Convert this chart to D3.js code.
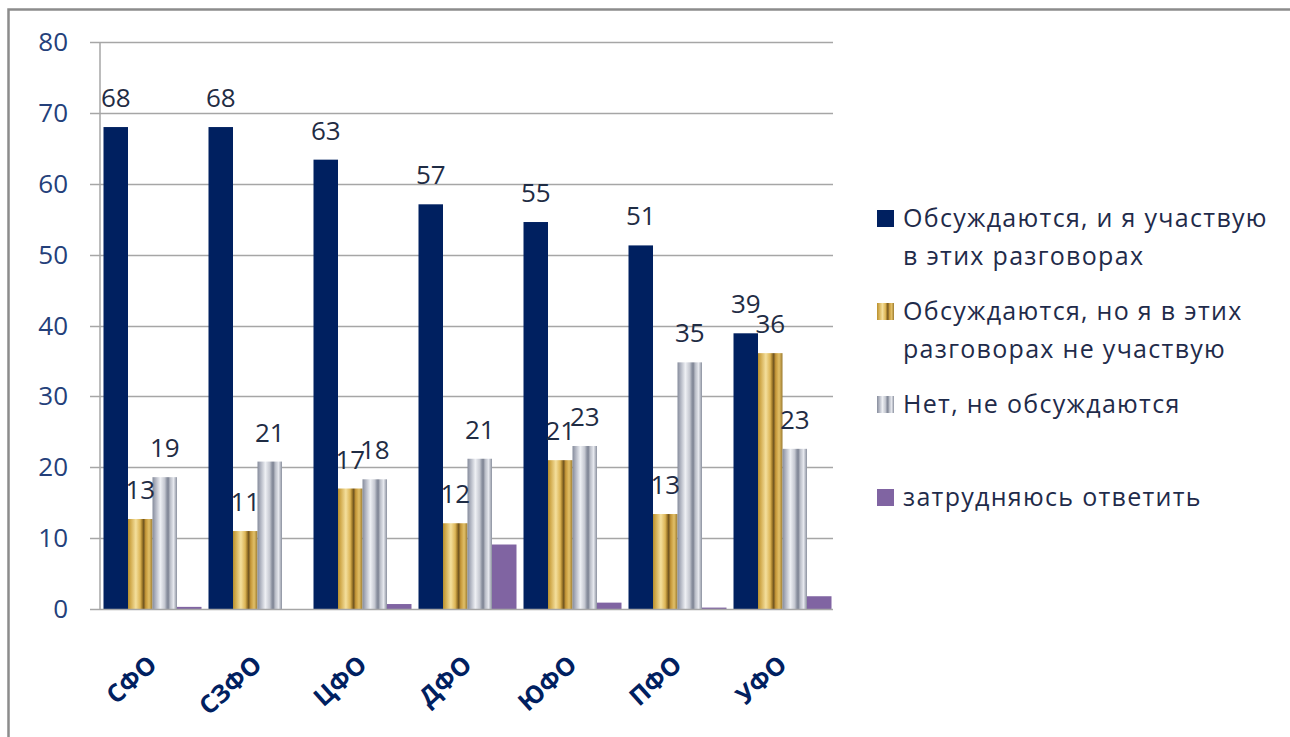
<!DOCTYPE html>
<html>
<head>
<meta charset="utf-8">
<script src="https://cdn.jsdelivr.net/npm/d3@7"></script>
<style>
  html, body { margin: 0; padding: 0; background: #fff; }
  svg { display: block; }
</style>
</head>
<body>
<svg id="chart" width="1290" height="737"></svg>
<script>
// ---- data ----
const categories = ["СФО", "СЗФО", "ЦФО", "ДФО", "ЮФО", "ПФО", "УФО"];
const seriesNames = [
  "Обсуждаются, и я участвую в этих разговорах",
  "Обсуждаются, но я в этих разговорах не участвую",
  "Нет, не обсуждаются",
  "затрудняюсь ответить"
];
const legendLines = [
  ["Обсуждаются, и я участвую", "в этих разговорах"],
  ["Обсуждаются, но я в этих", "разговорах не участвую"],
  ["Нет, не обсуждаются"],
  ["затрудняюсь ответить"]
];
const participate    = [68, 68, 63.4, 57.1, 54.6, 51.3, 38.9];
const notParticipate = [12.7, 11.0, 17.0, 12.1, 21.0, 13.4, 36.1];
const notDiscussed   = [18.6, 20.8, 18.3, 21.2, 23.0, 34.8, 22.6];
const hardToSay      = [0.3, 0, 0.7, 9.1, 0.9, 0.2, 1.8];
const yTicks = [0, 10, 20, 30, 40, 50, 60, 70, 80];
const showLabels = [true, true, true, false];

const seriesValues = [participate, notParticipate, notDiscussed, hardToSay];

// ---- setup ----
const svg = d3.select("#chart");
const defs = svg.append("defs");

function addGradient(id, stops) {
  const g = defs.append("linearGradient").attr("id", id)
    .attr("x1", "0%").attr("x2", "100%").attr("y1", "0%").attr("y2", "0%");
  stops.forEach(([o, c]) => g.append("stop").attr("offset", o).attr("stop-color", c));
}
addGradient("gold", [
  [0, "#b8902e"], [0.12, "#d4ae52"], [0.32, "#f4df9c"], [0.5, "#dcb556"],
  [0.58, "#a07a2a"], [0.64, "#6f5420"], [0.72, "#c49638"], [0.86, "#e2c068"], [1, "#9c7a2e"]
]);
addGradient("silver", [
  [0, "#868c9c"], [0.14, "#b4b8c4"], [0.32, "#eef0f4"], [0.5, "#c4c7d0"],
  [0.58, "#9298a6"], [0.64, "#7c8292"], [0.72, "#b8bcc6"], [0.86, "#e6e8ee"], [1, "#8a909e"]
]);
const fills = ["#002060", "url(#gold)", "url(#silver)", "#8064a2"];

// frame
svg.append("path")
  .attr("d", "M8.5,737 L8.5,9.5 L1290,9.5")
  .attr("fill", "none").attr("stroke", "#8c8c8c").attr("stroke-width", 2.5);

const plotLeft = 100, plotRight = 835, plotTop = 42, plotBottom = 609;

const x = d3.scaleBand().domain(categories).range([plotLeft, plotRight])
  .paddingInner(0.0667).paddingOuter(0.0333);
const xs = d3.scaleBand().domain(d3.range(seriesValues.length)).range([0, x.bandwidth()]);
const y = d3.scaleLinear().domain([0, 80]).range([plotBottom, plotTop]);

// gridlines
svg.append("g").selectAll("line").data(yTicks.filter(d => d > 0)).join("line")
  .attr("x1", 90).attr("x2", 833)
  .attr("y1", d => Math.round(y(d)) + 0.5).attr("y2", d => Math.round(y(d)) + 0.5)
  .attr("stroke", "#a6a6a6").attr("stroke-width", 1.5);

// y axis line
svg.append("line")
  .attr("x1", plotLeft).attr("x2", plotLeft).attr("y1", y(80)).attr("y2", y(0))
  .attr("stroke", "#a6a6a6").attr("stroke-width", 1.5);

// y tick labels
svg.append("g").selectAll("text").data(yTicks).join("text")
  .attr("x", 68).attr("y", d => y(d))
  .attr("dy", "0.35em")
  .attr("text-anchor", "end")
  .attr("font-family", "'Open Sans', sans-serif")
  .attr("font-size", 26)
  .attr("fill", "#24407a")
  .text(d => d);

// bars
seriesValues.forEach((vals, si) => {
  svg.append("g").selectAll("rect").data(vals.map((v, i) => ({ v, c: categories[i] }))).join("rect")
    .attr("x", d => x(d.c) + xs(si))
    .attr("width", xs.bandwidth())
    .attr("y", d => y(d.v))
    .attr("height", d => y(0) - y(d.v))
    .attr("fill", fills[si]);
});

// x axis line
svg.append("line")
  .attr("x1", 90).attr("x2", 833).attr("y1", y(0) + 0.5).attr("y2", y(0) + 0.5)
  .attr("stroke", "#a6a6a6").attr("stroke-width", 1.5);

// value labels
const fmt = d3.format(".0f");
seriesValues.forEach((vals, si) => {
  if (!showLabels[si]) return;
  svg.append("g").selectAll("text").data(vals.map((v, i) => ({ v, c: categories[i] }))).join("text")
    .attr("x", d => x(d.c) + xs(si) + xs.bandwidth() / 2)
    .attr("y", d => y(d.v) - 20)
    .attr("text-anchor", "middle")
    .attr("font-family", "'Open Sans', sans-serif")
    .attr("font-size", 26)
    .attr("fill", "#1f2c44")
    .text(d => fmt(d.v));
});

// x category labels (rotated)
svg.append("g").selectAll("text").data(categories).join("text")
  .attr("transform", d => `translate(${x(d) + x.bandwidth() / 2 + 6},${667}) rotate(-42)`)
  .attr("text-anchor", "end")
  .attr("font-family", "'Open Sans', sans-serif")
  .attr("font-weight", "bold")
  .attr("font-size", 25)
  .attr("fill", "#002060")
  .text(d => d);

// legend
const legendY = [218, 311, 404, 497];
const legend = svg.append("g");
legendLines.forEach((lines, i) => {
  legend.append("rect")
    .attr("x", 877).attr("y", legendY[i] - 8).attr("width", 17).attr("height", 17)
    .attr("fill", fills[i]);
  lines.forEach((ln, j) => {
    legend.append("text")
      .attr("x", 903).attr("y", legendY[i] + j * 38)
      .attr("dy", "0.35em")
      .attr("font-family", "'Open Sans', sans-serif")
      .attr("font-size", 25)
      .attr("letter-spacing", 1.3)
      .attr("fill", "#1f2b4a")
      .text(ln);
  });
});
</script>
</body>
</html>
